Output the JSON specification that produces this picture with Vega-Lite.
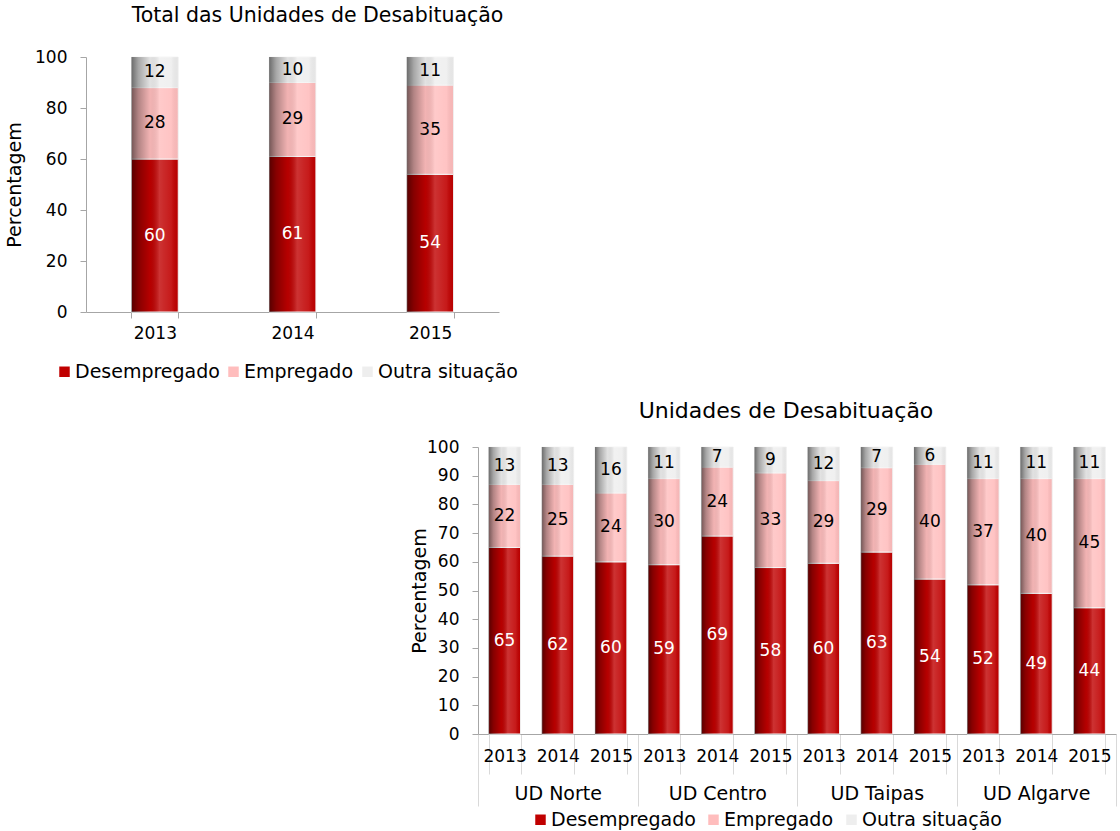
{
  "$schema": "https://vega.github.io/schema/vega-lite/v6.json",
  "background": "white",
  "padding": 5,
  "config": {
    "font": "DejaVu Sans",
    "view": {"stroke": null},
    "axis": {"labelFont": "DejaVu Sans", "titleFont": "DejaVu Sans", "labelColor": "black", "titleColor": "black", "labelFontSize": 17, "titleFontSize": 19, "titleFontWeight": "normal", "domainColor": "#a6a6a6", "tickColor": "#a6a6a6", "grid": false, "labelOverlap": false},
    "title": {"font": "DejaVu Sans", "fontWeight": "normal", "color": "black", "anchor": "middle", "frame": "group"}
  },
  "datasets": {
    "total": [
      {"ano": "2013", "categoria": "Desempregado", "valor": 60},
      {"ano": "2013", "categoria": "Empregado", "valor": 28},
      {"ano": "2013", "categoria": "Outra situação", "valor": 12},
      {"ano": "2014", "categoria": "Desempregado", "valor": 61},
      {"ano": "2014", "categoria": "Empregado", "valor": 29},
      {"ano": "2014", "categoria": "Outra situação", "valor": 10},
      {"ano": "2015", "categoria": "Desempregado", "valor": 54},
      {"ano": "2015", "categoria": "Empregado", "valor": 35},
      {"ano": "2015", "categoria": "Outra situação", "valor": 11}
    ],
    "ud": [
      {"grupo": "UD Norte", "ano": "2013", "barra": "UD Norte 2013", "categoria": "Desempregado", "valor": 65},
      {"grupo": "UD Norte", "ano": "2013", "barra": "UD Norte 2013", "categoria": "Empregado", "valor": 22},
      {"grupo": "UD Norte", "ano": "2013", "barra": "UD Norte 2013", "categoria": "Outra situação", "valor": 13},
      {"grupo": "UD Norte", "ano": "2014", "barra": "UD Norte 2014", "categoria": "Desempregado", "valor": 62},
      {"grupo": "UD Norte", "ano": "2014", "barra": "UD Norte 2014", "categoria": "Empregado", "valor": 25},
      {"grupo": "UD Norte", "ano": "2014", "barra": "UD Norte 2014", "categoria": "Outra situação", "valor": 13},
      {"grupo": "UD Norte", "ano": "2015", "barra": "UD Norte 2015", "categoria": "Desempregado", "valor": 60},
      {"grupo": "UD Norte", "ano": "2015", "barra": "UD Norte 2015", "categoria": "Empregado", "valor": 24},
      {"grupo": "UD Norte", "ano": "2015", "barra": "UD Norte 2015", "categoria": "Outra situação", "valor": 16},
      {"grupo": "UD Centro", "ano": "2013", "barra": "UD Centro 2013", "categoria": "Desempregado", "valor": 59},
      {"grupo": "UD Centro", "ano": "2013", "barra": "UD Centro 2013", "categoria": "Empregado", "valor": 30},
      {"grupo": "UD Centro", "ano": "2013", "barra": "UD Centro 2013", "categoria": "Outra situação", "valor": 11},
      {"grupo": "UD Centro", "ano": "2014", "barra": "UD Centro 2014", "categoria": "Desempregado", "valor": 69},
      {"grupo": "UD Centro", "ano": "2014", "barra": "UD Centro 2014", "categoria": "Empregado", "valor": 24},
      {"grupo": "UD Centro", "ano": "2014", "barra": "UD Centro 2014", "categoria": "Outra situação", "valor": 7},
      {"grupo": "UD Centro", "ano": "2015", "barra": "UD Centro 2015", "categoria": "Desempregado", "valor": 58},
      {"grupo": "UD Centro", "ano": "2015", "barra": "UD Centro 2015", "categoria": "Empregado", "valor": 33},
      {"grupo": "UD Centro", "ano": "2015", "barra": "UD Centro 2015", "categoria": "Outra situação", "valor": 9},
      {"grupo": "UD Taipas", "ano": "2013", "barra": "UD Taipas 2013", "categoria": "Desempregado", "valor": 59.5},
      {"grupo": "UD Taipas", "ano": "2013", "barra": "UD Taipas 2013", "categoria": "Empregado", "valor": 28.8},
      {"grupo": "UD Taipas", "ano": "2013", "barra": "UD Taipas 2013", "categoria": "Outra situação", "valor": 11.7},
      {"grupo": "UD Taipas", "ano": "2014", "barra": "UD Taipas 2014", "categoria": "Desempregado", "valor": 63.4},
      {"grupo": "UD Taipas", "ano": "2014", "barra": "UD Taipas 2014", "categoria": "Empregado", "valor": 29.4},
      {"grupo": "UD Taipas", "ano": "2014", "barra": "UD Taipas 2014", "categoria": "Outra situação", "valor": 7.2},
      {"grupo": "UD Taipas", "ano": "2015", "barra": "UD Taipas 2015", "categoria": "Desempregado", "valor": 54},
      {"grupo": "UD Taipas", "ano": "2015", "barra": "UD Taipas 2015", "categoria": "Empregado", "valor": 40},
      {"grupo": "UD Taipas", "ano": "2015", "barra": "UD Taipas 2015", "categoria": "Outra situação", "valor": 6},
      {"grupo": "UD Algarve", "ano": "2013", "barra": "UD Algarve 2013", "categoria": "Desempregado", "valor": 52},
      {"grupo": "UD Algarve", "ano": "2013", "barra": "UD Algarve 2013", "categoria": "Empregado", "valor": 37},
      {"grupo": "UD Algarve", "ano": "2013", "barra": "UD Algarve 2013", "categoria": "Outra situação", "valor": 11},
      {"grupo": "UD Algarve", "ano": "2014", "barra": "UD Algarve 2014", "categoria": "Desempregado", "valor": 49},
      {"grupo": "UD Algarve", "ano": "2014", "barra": "UD Algarve 2014", "categoria": "Empregado", "valor": 40},
      {"grupo": "UD Algarve", "ano": "2014", "barra": "UD Algarve 2014", "categoria": "Outra situação", "valor": 11},
      {"grupo": "UD Algarve", "ano": "2015", "barra": "UD Algarve 2015", "categoria": "Desempregado", "valor": 44},
      {"grupo": "UD Algarve", "ano": "2015", "barra": "UD Algarve 2015", "categoria": "Empregado", "valor": 45},
      {"grupo": "UD Algarve", "ano": "2015", "barra": "UD Algarve 2015", "categoria": "Outra situação", "valor": 11}
    ]
  },
  "spacing": 18,
  "resolve": {"legend": {"color": "independent"}},
  "vconcat": [
    {
      "width": 413,
      "height": 255,
      "title": {"text": "Total das Unidades de Desabituação", "fontSize": 20.5, "dx": 25, "offset": 22},
      "data": {"name": "total"},
      "encoding": {
        "x": {"field": "ano", "type": "nominal", "scale": {"paddingInner": 0.66, "paddingOuter": 0.33}, "axis": {"title": null, "labelAngle": 0, "tickBand": "extent", "tickSize": 6, "labelPadding": 7}},
        "y": {"field": "valor", "type": "quantitative", "stack": "zero", "scale": {"domain": [0, 100]}, "axis": {"title": "Percentagem", "values": [0, 20, 40, 60, 80, 100], "tickSize": 6, "labelPadding": 13, "titlePadding": 10}},
        "order": {"field": "categoria", "type": "ordinal", "sort": "ascending"}
      },
      "layer": [
        {
          "mark": {"type": "bar", "stroke": "#f4f4f4", "strokeWidth": 1},
          "encoding": {
            "color": {"field": "categoria", "type": "nominal", "scale": {"domain": ["Desempregado", "Empregado", "Outra situação"], "range": ["#C00000", "#FFBDBD", "#EEEEEE"]},
              "legend": {"title": null, "orient": "none", "legendX": -31, "legendY": 305, "direction": "horizontal", "symbolType": "square", "symbolSize": 110, "symbolStrokeWidth": 0, "labelFontSize": 19, "labelFont": "DejaVu Sans", "labelColor": "black", "columnPadding": 4, "labelOffset": 1}}
          }
        },
        {
          "mark": {"type": "bar", "fill": {"gradient": "linear", "x1": 0, "y1": 0, "x2": 1, "y2": 0, "stops": [{"offset": 0, "color": "rgba(0,0,0,0.55)"}, {"offset": 0.15, "color": "rgba(0,0,0,0.3)"}, {"offset": 0.4, "color": "rgba(0,0,0,0.05)"}, {"offset": 0.6, "color": "rgba(255,255,255,0.2)"}, {"offset": 0.85, "color": "rgba(255,255,255,0.1)"}, {"offset": 1, "color": "rgba(0,0,0,0.03)"}]}},
          "encoding": {"detail": {"field": "categoria", "type": "nominal"}}
        },
        {
          "mark": {"type": "text", "fontSize": 17, "font": "DejaVu Sans", "baseline": "middle"},
          "encoding": {
            "y": {"field": "valor", "type": "quantitative", "stack": "zero", "bandPosition": 0.5},
            "detail": {"field": "categoria", "type": "nominal"},
            "text": {"field": "valor", "type": "quantitative", "format": ".0f"},
            "color": {"condition": {"test": "datum.categoria === 'Desempregado'", "value": "white"}, "value": "black"}
          }
        }
      ]
    },
    {
      "spacing": 20,
      "resolve": {"legend": {"color": "independent"}},
      "hconcat": [
        {
          "width": 304,
          "height": 10,
          "data": {"values": [{}]},
          "mark": {"type": "point", "opacity": 0},
          "encoding": {}
        },
        {
          "width": 638,
          "height": 287,
          "title": {"text": "Unidades de Desabituação", "fontSize": 22, "dx": -11, "offset": 15},
          "data": {"name": "ud"},
          "resolve": {"scale": {"x": "independent"}, "axis": {"x": "independent"}},
          "layer": [
            {
              "mark": {"type": "point", "opacity": 0},
              "encoding": {
                "x": {"field": "grupo", "type": "nominal", "sort": ["UD Norte", "UD Centro", "UD Taipas", "UD Algarve"], "scale": {"paddingInner": 0, "paddingOuter": 0},
                  "axis": {"title": null, "orient": "bottom", "labelAngle": 0, "tickBand": "extent", "tickSize": 72, "labelPadding": -22, "domain": false, "labelFontSize": 19, "tickColor": "#d9d9d9"}}
              }
            },
            {
              "encoding": {
                "x": {"field": "barra", "type": "nominal", "sort": ["UD Norte 2013", "UD Norte 2014", "UD Norte 2015", "UD Centro 2013", "UD Centro 2014", "UD Centro 2015", "UD Taipas 2013", "UD Taipas 2014", "UD Taipas 2015", "UD Algarve 2013", "UD Algarve 2014", "UD Algarve 2015"],
                  "scale": {"paddingInner": 0.4, "paddingOuter": 0.2},
                  "axis": {"title": null, "orient": "bottom", "labelAngle": 0, "tickBand": "extent", "tickSize": 40, "labelPadding": -26, "labelExpr": "slice(datum.label, -4)", "tickColor": "#d9d9d9"}},
                "y": {"field": "valor", "type": "quantitative", "stack": "zero", "scale": {"domain": [0, 100]}, "axis": {"title": "Percentagem", "values": [0, 10, 20, 30, 40, 50, 60, 70, 80, 90, 100], "tickSize": 6, "labelPadding": 13, "titlePadding": -3}},
                "order": {"field": "categoria", "type": "ordinal", "sort": "ascending"}
              },
              "layer": [
                {
                  "mark": {"type": "bar", "stroke": "#f4f4f4", "strokeWidth": 1},
                  "encoding": {
                    "color": {"field": "categoria", "type": "nominal", "scale": {"domain": ["Desempregado", "Empregado", "Outra situação"], "range": ["#C00000", "#FFBDBD", "#EEEEEE"]},
                      "legend": {"title": null, "orient": "none", "legendX": 53, "legendY": 363, "direction": "horizontal", "symbolType": "square", "symbolSize": 110, "symbolStrokeWidth": 0, "labelFontSize": 19, "labelFont": "DejaVu Sans", "labelColor": "black", "columnPadding": 8, "labelOffset": 1}}
                  }
                },
                {
                  "mark": {"type": "bar", "fill": {"gradient": "linear", "x1": 0, "y1": 0, "x2": 1, "y2": 0, "stops": [{"offset": 0, "color": "rgba(0,0,0,0.55)"}, {"offset": 0.15, "color": "rgba(0,0,0,0.3)"}, {"offset": 0.4, "color": "rgba(0,0,0,0.05)"}, {"offset": 0.6, "color": "rgba(255,255,255,0.2)"}, {"offset": 0.85, "color": "rgba(255,255,255,0.1)"}, {"offset": 1, "color": "rgba(0,0,0,0.03)"}]}},
                  "encoding": {"detail": {"field": "categoria", "type": "nominal"}}
                },
                {
                  "mark": {"type": "text", "fontSize": 17, "font": "DejaVu Sans", "baseline": "middle"},
                  "encoding": {
                    "y": {"field": "valor", "type": "quantitative", "stack": "zero", "bandPosition": 0.5},
                    "detail": {"field": "categoria", "type": "nominal"},
                    "text": {"field": "valor", "type": "quantitative", "format": ".0f"},
                    "color": {"condition": {"test": "datum.categoria === 'Desempregado'", "value": "white"}, "value": "black"}
                  }
                }
              ]
            }
          ]
        }
      ]
    }
  ]
}
